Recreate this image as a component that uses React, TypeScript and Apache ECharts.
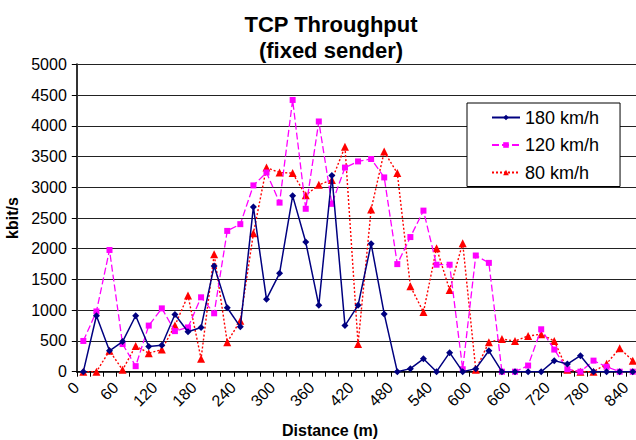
import React, { useEffect, useRef } from "react";
import * as echarts from "echarts";

const distances: string[] = [
  "0", "20", "40", "60", "80", "100", "120", "140", "160", "180", "200", "220", "240", "260", "280",
  "300", "320", "340", "360", "380", "400", "420", "440", "460", "480", "500", "520", "540", "560",
  "580", "600", "620", "640", "660", "680", "700", "720", "740", "760", "780", "800", "820", "840",
];

const speed180: number[] = [
  0, 910, 340, 490, 910, 410, 430, 930, 650,
  720, 1720, 1040, 730, 2680, 1180, 1600, 2860,
  2110, 1080, 3190, 750, 1080, 2080, 940, 0,
  50, 210, 0, 310, 0, 50, 340, 0,
  0, 0, 0, 180, 125, 260, 0, 0, 0, 0,
];

const speed120: number[] = [
  500, 980, 1980, 450, 90, 750, 1030, 660, 720,
  1210, 950, 2290, 2400, 3030, 3240, 2750, 4420,
  2650, 4070, 2730, 3320, 3420, 3460, 3160, 1750,
  2190, 2620, 1740, 1740, 40, 1890, 1770, 0,
  0, 100, 690, 360, 40, 0, 180, 80, 0, 0,
];

const speed80: number[] = [
  0, 0, 340, 30, 420, 300, 360, 750, 1240,
  210, 1910, 480, 830, 2250, 3320, 3240, 3230,
  2870, 3040, 3120, 3660, 450, 2640, 3580, 3230,
  1390, 970, 2010, 1330, 2090, 30, 480, 530,
  500, 580, 610, 500, 30, 0, 0, 130, 380, 180,
];

const seriesNames: string[] = ["180 km/h", "120 km/h", "80 km/h"];

const FONT = '"Liberation Sans", Arial, sans-serif';

export default function App() {
  const ref = useRef<HTMLDivElement>(null);

  useEffect(() => {
    if (!ref.current) return;
    const chart = echarts.init(ref.current, undefined, { renderer: "svg" });
    chart.setOption({
      animation: false,
      backgroundColor: "#ffffff",
      textStyle: { fontFamily: FONT, color: "#000" },
      title: [
        {
          text: "TCP Throughput\n(fixed sender)",
          left: 326,
          top: 6,
          textAlign: "center",
          textStyle: {
            fontFamily: FONT,
            fontSize: 22,
            fontWeight: "bold",
            color: "#000",
            lineHeight: 26,
          },
        },
        {
          text: "Distance (m)",
          left: 325,
          top: 417,
          textAlign: "center",
          textStyle: {
            fontFamily: FONT,
            fontSize: 16,
            fontWeight: "bold",
            color: "#000",
          },
        },
      ],
      legend: {
        orient: "vertical",
        left: 467,
        top: 103,
        data: seriesNames,
        backgroundColor: "#ffffff",
        borderColor: "#000",
        borderWidth: 1,
        padding: [4.5, 21, 4, 24],
        itemGap: 7.5,
        itemWidth: 28,
        itemHeight: 7,
        textStyle: { fontFamily: FONT, fontSize: 18, color: "#000", lineHeight: 20 },
      },
      grid: {
        left: 76.8,
        top: 64.3,
        width: 562.5,
        height: 307.4,
        containLabel: false,
        outerBoundsMode: "none",
      },
      xAxis: {
        type: "category",
        data: distances,
        boundaryGap: true,
        axisLine: { show: true, lineStyle: { color: "#000", width: 1.5 } },
        axisTick: { show: true, interval: 0, length: 5, lineStyle: { color: "#000" } },
        axisLabel: {
          interval: 2,
          rotate: 45,
          fontSize: 16,
          fontFamily: FONT,
          color: "#000",
          margin: 6,
          padding: [0, 10, 0, 0],
        },
        splitLine: { show: false },
      },
      yAxis: {
        type: "value",
        min: 0,
        max: 5000,
        interval: 500,
        name: "kbit/s",
        nameLocation: "middle",
        nameRotate: 90,
        nameGap: 56,
        nameTextStyle: { fontFamily: FONT, fontSize: 16, fontWeight: "bold", color: "#000" },
        axisLine: { show: true, lineStyle: { color: "#333", width: 2 } },
        axisTick: { show: true, length: 5, lineStyle: { color: "#000" } },
        axisLabel: {
          fontSize: 16,
          fontFamily: FONT,
          color: "#000",
          margin: 10,
          formatter: (v: number) => String(v),
        },
        splitLine: { show: true, lineStyle: { color: "#222", width: 1 } },
      },
      series: [
        {
          name: seriesNames[0],
          type: "line",
          data: speed180,
          symbol: "diamond",
          symbolSize: 7,
          lineStyle: { color: "#000080", width: 1.5, type: "solid" },
          itemStyle: { color: "#000080" },
          z: 4,
        },
        {
          name: seriesNames[1],
          type: "line",
          data: speed120,
          symbol: "rect",
          symbolSize: 6,
          lineStyle: { color: "#ff00ff", width: 1.3, type: [7, 3] },
          itemStyle: { color: "#ff00ff" },
          z: 3,
        },
        {
          name: seriesNames[2],
          type: "line",
          data: speed80,
          symbol: "triangle",
          symbolSize: 8,
          lineStyle: { color: "#ff0000", width: 1.4, type: [2, 2] },
          itemStyle: { color: "#ff0000" },
          z: 2,
        },
      ],
    });
    return () => {
      chart.dispose();
    };
  }, []);

  return (
    <div
      ref={ref}
      style={{ position: "fixed", left: 0, top: 0, width: 636, height: 440, overflow: "hidden" }}
    />
  );
}
